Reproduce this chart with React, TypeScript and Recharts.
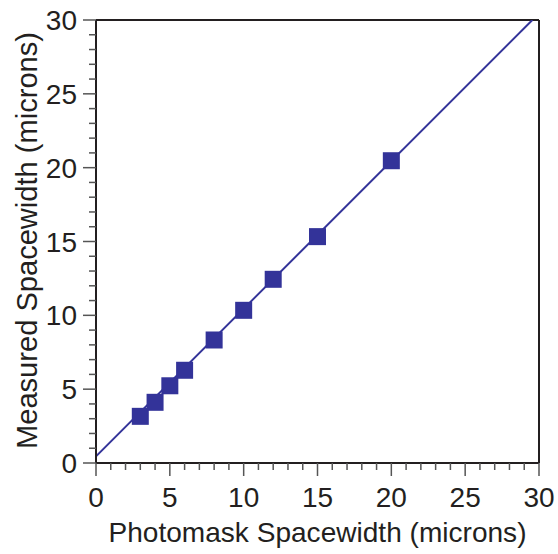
import React from 'react';
import { ComposedChart, XAxis, YAxis, Scatter, Line, ReferenceLine } from 'recharts';

const photomask = [3, 4, 5, 6, 8, 10, 12, 15, 20];
const measured = [3.16, 4.11, 5.23, 6.28, 8.33, 10.34, 12.44, 15.33, 20.47];
const fitX = [0, 29.55];
const fitY = [0.45, 30];
const tickValues = Array.from({ length: 31 }, (_, i) => i);
const majorTicks = [0, 5, 10, 15, 20, 25, 30];

const points = photomask.map((x, i) => ({ x, y: measured[i] }));
const fitLine = fitX.map((x, i) => ({ x, y: fitY[i] }));

const TEXT = '#231f20';
const MARK = '#333399';
const FONT = '"Liberation Sans", Arial, sans-serif';

const XTick = (props: any) => {
  const { x, y, payload } = props;
  const v = payload.value;
  const major = majorTicks.includes(v);
  return (
    <g>
      <line x1={x} x2={x} y1={y} y2={y + (major ? 13 : 7)} stroke="#555" strokeWidth={1.5} />
      {major && (
        <text x={x} y={y + 44} textAnchor="middle" fontSize={28} fill={TEXT} fontFamily={FONT}>
          {v}
        </text>
      )}
    </g>
  );
};

const YTick = (props: any) => {
  const { x, y, payload } = props;
  const v = payload.value;
  const major = majorTicks.includes(v);
  return (
    <g>
      <line x1={x - (major ? 13 : 7)} x2={x} y1={y} y2={y} stroke="#555" strokeWidth={1.5} />
      {major && (
        <text x={x - 19} y={y + 10} textAnchor="end" fontSize={28} fill={TEXT} fontFamily={FONT}>
          {v}
        </text>
      )}
    </g>
  );
};

const Square = (props: any) => {
  const { cx, cy } = props;
  return <rect x={cx - 8.5} y={cy - 8.5} width={17} height={17} fill={MARK} />;
};

const XLabel = (props: any) => {
  const { viewBox } = props;
  const cx = viewBox.x + viewBox.width / 2;
  return (
    <text
      x={cx}
      y={viewBox.y + 79}
      textAnchor="middle"
      fontSize={28}
      textLength={418}
      lengthAdjust="spacingAndGlyphs"
      fill={TEXT}
      fontFamily={FONT}
    >
      Photomask Spacewidth (microns)
    </text>
  );
};

const YLabel = (props: any) => {
  const { viewBox } = props;
  const cx = 37;
  const cy = viewBox.y + viewBox.height / 2 - 1;
  return (
    <text
      x={cx}
      y={cy}
      transform={`rotate(-90, ${cx}, ${cy})`}
      textAnchor="middle"
      fontSize={29}
      textLength={417}
      lengthAdjust="spacingAndGlyphs"
      fill={TEXT}
      fontFamily={FONT}
    >
      Measured Spacewidth (microns)
    </text>
  );
};

export default function App() {
  return (
    <div style={{ position: 'absolute', left: 0, top: 0, background: '#fff' }}>
      <ComposedChart width={558} height={554} margin={{ top: 20, right: 19, bottom: 0, left: 0 }}>
        <XAxis
          type="number"
          dataKey="x"
          domain={[0, 30]}
          ticks={tickValues}
          interval={0}
          allowDataOverflow
          height={91}
          tickSize={0}
          tickMargin={0}
          tick={<XTick />}
          axisLine={{ stroke: TEXT, strokeWidth: 2 }}
          label={<XLabel />}
        />
        <YAxis
          type="number"
          dataKey="y"
          domain={[0, 30]}
          ticks={tickValues}
          interval={0}
          allowDataOverflow
          width={96}
          tickSize={0}
          tickMargin={0}
          tick={<YTick />}
          axisLine={{ stroke: TEXT, strokeWidth: 2 }}
          label={<YLabel />}
        />
        <ReferenceLine y={30} stroke={TEXT} strokeWidth={2} />
        <ReferenceLine x={30} stroke={TEXT} strokeWidth={2} />
        <Line
          data={fitLine}
          dataKey="y"
          stroke={MARK}
          strokeWidth={2}
          dot={false}
          isAnimationActive={false}
          legendType="none"
        />
        <Scatter data={points} dataKey="y" shape={<Square />} isAnimationActive={false} />
      </ComposedChart>
    </div>
  );
}
